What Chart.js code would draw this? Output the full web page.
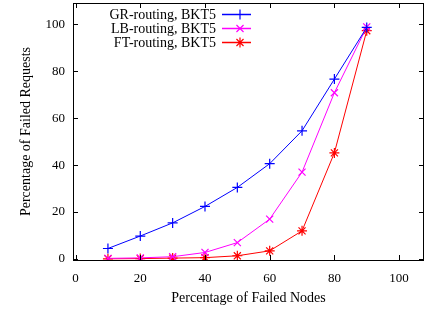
<!DOCTYPE html>
<html>
<head>
<meta charset="utf-8">
<script src="https://cdn.jsdelivr.net/npm/chart.js@4.4.1/dist/chart.umd.min.js"></script>
<style>
  html, body { margin: 0; padding: 0; background: #fff; }
  #wrap { width: 425px; height: 309px; }
</style>
</head>
<body>
<div id="wrap"><canvas id="c" width="425" height="309"></canvas></div>
<script>
// failed nodes (%) on x, failed requests (%) on y
var nodes = [10, 20, 30, 40, 50, 60, 70, 80, 90];
var grRouting = [4.5, 9.8, 15.4, 22.4, 30.5, 40.6, 54.6, 76.6, 98.6];
var lbRouting = [0.3, 0.5, 1.0, 2.8, 7.0, 17.0, 37.0, 70.8, 98.8];
var ftRouting = [0.1, 0.2, 0.4, 0.6, 1.4, 3.5, 12.0, 45.2, 97.2];
var xTicks = [0, 20, 40, 60, 80, 100];
var yTicks = [0, 20, 40, 60, 80, 100];

var serif = "'Liberation Serif', 'Times New Roman', serif";

function pts(ys) {
  return nodes.map(function (x, i) { return { x: x, y: ys[i] }; });
}

function series(label, ys, color, style) {
  return {
    label: label,
    data: pts(ys),
    borderColor: color,
    backgroundColor: color,
    borderWidth: 1,
    pointStyle: style,
    pointRadius: 5,
    pointBorderWidth: 1.2,
    tension: 0
  };
}

// gnuplot-ish frame: box + inward ticks on all four sides
var framePlugin = {
  id: 'frame',
  afterDraw: function (chart) {
    var ctx = chart.ctx, a = chart.chartArea;
    var xs = chart.scales.x, ys = chart.scales.y;
    ctx.save();
    ctx.strokeStyle = '#000';
    ctx.lineWidth = 1;
    ctx.strokeRect(Math.round(a.left) + 0.5, Math.round(a.top) + 0.5,
      Math.round(a.right - a.left) - 1, Math.round(a.bottom - a.top));
    ctx.beginPath();
    xTicks.forEach(function (v) {
      var px = Math.round(xs.getPixelForValue(v)) + 0.5;
      ctx.moveTo(px, a.bottom); ctx.lineTo(px, a.bottom - 5);
      ctx.moveTo(px, a.top); ctx.lineTo(px, a.top + 5);
    });
    yTicks.forEach(function (v) {
      var py = Math.round(ys.getPixelForValue(v)) + 0.5;
      ctx.moveTo(a.left, py); ctx.lineTo(a.left + 5, py);
      ctx.moveTo(a.right, py); ctx.lineTo(a.right - 5, py);
    });
    ctx.stroke();
    ctx.restore();
  }
};

// legend inside the plot, text right-aligned, sample on the right
var keyPlugin = {
  id: 'key',
  afterDraw: function (chart) {
    var ctx = chart.ctx;
    ctx.save();
    ctx.font = '14px ' + serif;
    ctx.textAlign = 'right';
    ctx.textBaseline = 'middle';
    chart.data.datasets.forEach(function (ds, i) {
      var y = 14.5 + i * 14;
      ctx.fillStyle = '#000';
      ctx.fillText(ds.label, 216, y + 1);
      ctx.strokeStyle = ds.borderColor;
      ctx.lineWidth = 1.5;
      ctx.beginPath();
      ctx.moveTo(222, y); ctx.lineTo(251, y);
      ctx.stroke();
      ctx.lineWidth = 1.2;
      Chart.helpers.drawPoint(ctx, { pointStyle: ds.pointStyle, radius: 5, borderWidth: 1.2 }, 240, y);
    });
    ctx.restore();
  }
};

new Chart(document.getElementById('c'), {
  type: 'line',
  data: {
    datasets: [
      series('GR-routing, BKT5', grRouting, '#0000ff', 'cross'),
      series('LB-routing, BKT5', lbRouting, '#ff00ff', 'crossRot'),
      series('FT-routing, BKT5', ftRouting, '#ff0000', 'star')
    ]
  },
  options: {
    responsive: false,
    animation: false,
    layout: { autoPadding: false, padding: { top: 3, right: 1, left: 0, bottom: 0 } },
    plugins: { legend: { display: false }, tooltip: { enabled: false } },
    scales: {
      x: {
        type: 'linear',
        min: -0.8,
        max: 107.7,
        afterBuildTicks: function (s) { s.ticks = xTicks.map(function (v) { return { value: v }; }); },
        afterFit: function (s) { s.height = 49; s.paddingLeft = 0; s.paddingRight = 0; },
        grid: { display: false, drawTicks: false },
        border: { display: false },
        ticks: { color: '#000', font: { family: serif, size: 13 }, padding: 11, maxRotation: 0 },
        title: { display: true, text: 'Percentage of Failed Nodes', color: '#000',
          font: { family: serif, size: 14 }, padding: { top: 0, bottom: 2 } }
      },
      y: {
        type: 'linear',
        min: -0.4,
        max: 109,
        afterBuildTicks: function (s) { s.ticks = yTicks.map(function (v) { return { value: v }; }); },
        afterFit: function (s) { s.width = 73; s.paddingTop = 0; s.paddingBottom = 0; },
        grid: { display: false, drawTicks: false },
        border: { display: false },
        ticks: { color: '#000', font: { family: serif, size: 13 }, padding: 8 },
        title: { display: true, text: 'Percentage of Failed Requests', color: '#000',
          font: { family: serif, size: 14 }, padding: { top: 18, bottom: 0 } }
      }
    }
  },
  plugins: [framePlugin, keyPlugin]
});
</script>
</body>
</html>
